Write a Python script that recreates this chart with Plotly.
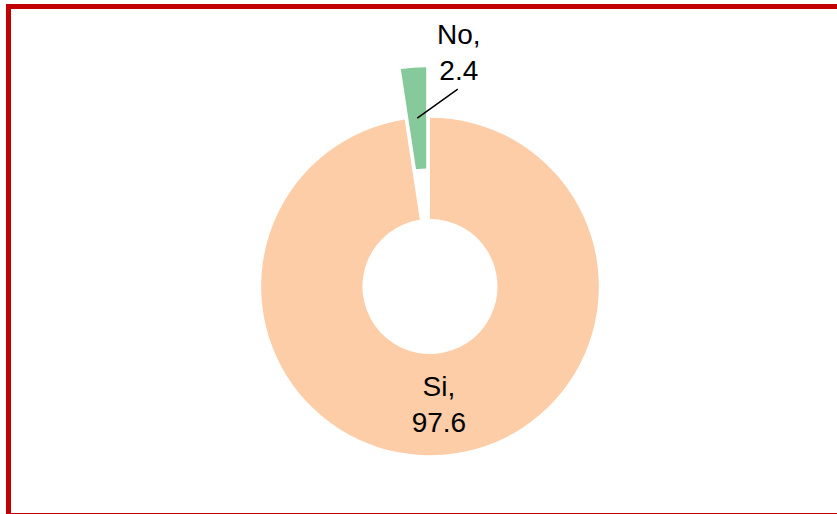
import math
import plotly.graph_objects as go

# ---- data ----
labels = ["Si", "No"]
values = [97.6, 2.4]
colors = ["#FDCDA8", "#86C99A"]
pulls = [0.0, 0.3]

# ---- layout constants ----
W, H = 837, 514
ML, MR, MT, MB = 23, 0, 67, 8
HOLE = 0.40
FONT = "Liberation Sans, Arial, sans-serif"
FS = 28

plotW, plotH = W - ML - MR, H - MT - MB


def px2paper(x, y):
    return (x - ML) / plotW, 1 - (y - MT) / plotH


texts = [f"{labels[0]},<br>{values[0]}", ""]

fig = go.Figure(
    go.Pie(
        labels=labels,
        values=values,
        hole=HOLE,
        sort=False,
        direction="clockwise",
        rotation=0,
        pull=pulls,
        marker=dict(colors=colors, line=dict(color="white", width=0)),
        text=texts,
        textinfo="text",
        textposition="inside",
        insidetextorientation="horizontal",
        textfont=dict(family=FONT, size=FS, color="black"),
        showlegend=False,
        hoverinfo="label+value",
    )
)

# geometry of pie as plotly computes it, to anchor the "No" leader line
r = min(plotW, plotH) / 2 / (1 + max(pulls))
cx, cy = ML + plotW / 2, MT + plotH / 2
tot = sum(values)
mid = (values[0] + values[1] / 2) / tot * 2 * math.pi
R = (pulls[1] + (1 + HOLE) / 2) * r
tipx, tipy = cx + R * math.sin(mid), cy - R * math.cos(mid)

lab_dx, lab_dy = 42, -66
end_dx, end_dy = 42, -30

tx, ty = px2paper(tipx, tipy)
lx, ly = px2paper(tipx + lab_dx, tipy + lab_dy)

fig.add_annotation(
    x=tx, y=ty, ax=end_dx, ay=end_dy, xref="paper", yref="paper",
    text="", showarrow=True, arrowhead=0, arrowwidth=1.5, arrowcolor="black",
    standoff=0, startstandoff=0,
)
fig.add_annotation(
    x=lx, y=ly, xref="paper", yref="paper", showarrow=False,
    text=f"{labels[1]},<br>{values[1]}", xanchor="center", yanchor="middle",
    font=dict(family=FONT, size=FS, color="black"),
)

# red frame
x0, y0 = px2paper(8.5, 6.5)
x1, y1 = px2paper(850, 515.5)
fig.add_shape(type="rect", xref="paper", yref="paper", x0=x0, y0=y0, x1=x1, y1=y1,
              line=dict(color="#C00000", width=5), fillcolor="rgba(0,0,0,0)")

fig.update_layout(
    width=W, height=H,
    margin=dict(l=ML, r=MR, t=MT, b=MB),
    paper_bgcolor="white", plot_bgcolor="white",
)

fig.write_html("out.html", config={"displayModeBar": False},
               post_script="document.body.style.margin='0';")
